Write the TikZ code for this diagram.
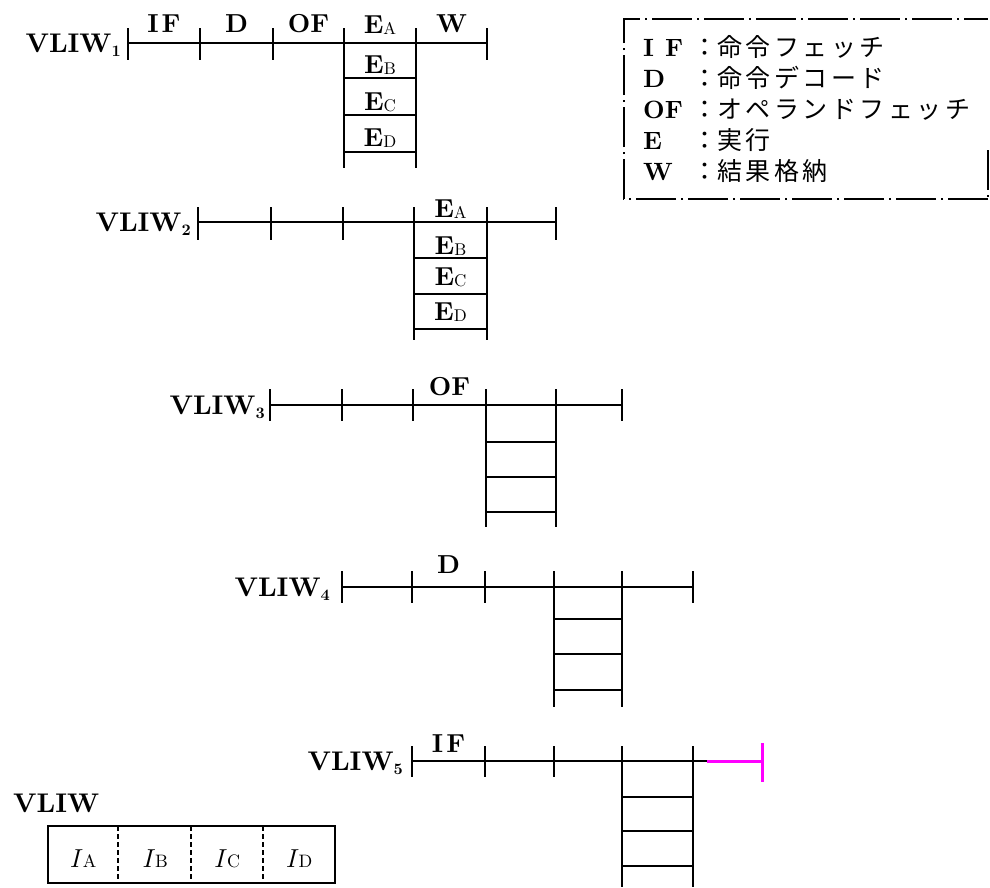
\documentclass[tikz,border=0pt]{standalone}
\usepackage{fontspec}
\setmainfont{lmroman10-regular.otf}[BoldFont=lmroman10-bold.otf, ItalicFont=lmroman10-italic.otf, BoldItalicFont=lmroman10-bolditalic.otf]
\newfontfamily\jpfont{Noto Sans CJK JP}
\newcommand\fs[1]{\fontsize{#1}{#1}\selectfont}
\newcommand\jk{\kern3.5pt}
\newcommand\vl[1]{VLIW\raisebox{-4pt}{\fs{16}#1}}
\newcommand\ee[1]{E\raisebox{-1.5pt}{\fs{17}\mdseries #1}}
\newcommand\ii[1]{\textit{I}{\fs{18}#1}}
\definecolor{mag}{RGB}{255,0,255}
\tikzset{
  pline/.style={line width=1.8pt},
  vlabel/.style={font=\fs{27}\bfseries, inner sep=0pt, anchor=base east},
  stage/.style={font=\fs{26}\bfseries, inner sep=0pt, anchor=base},
  cellt/.style={font=\fs{26}\bfseries, inner sep=0pt, anchor=base},
  legl/.style={font=\fs{25}\bfseries, inner sep=0pt, anchor=base west},
  legc/.style={font=\fs{25}\jpfont, inner sep=0pt, anchor=base},
  legj/.style={font=\fs{25}\jpfont, inner sep=0pt, anchor=base west},
  legbox/.style={line width=1.1pt, dash pattern=on 40pt off 5pt on 2pt off 5pt},
  boxlab/.style={font=\fs{26}, inner sep=0pt, anchor=base},
  extra/.style={mag, line width=3pt}
}
\begin{document}
\begin{tikzpicture}[x=1pt,y=-1pt]
\useasboundingbox (0,0) rectangle (990,887);
% ---------- Row 1
\coordinate (a1) at (128,43); \coordinate (b1) at (487,43);
\draw[pline] (a1) -- (b1);
\foreach \x in {128,200,273,344,416,487} \draw[pline] (\x,28) -- (\x,60);
\draw[pline] (344,28) -- (344,168) (416,28) -- (416,168);
\foreach \y in {78,115,152} \draw[pline] (344,\y) -- (416,\y);
\node[vlabel] (v1) at (121,52) {\vl{1}};
\node[stage] (s1a) at (164,32) {I\kern3ptF};
\node[stage] (s1b) at (236.5,32) {D};
\node[stage] (s1c) at (308.5,32) {OF};
\node[cellt] (s1d) at (380,33) {\ee{A}};
\node[stage] (s1e) at (451.5,32) {W};
\node[cellt] (c1b) at (380,73) {\ee{B}};
\node[cellt] (c1c) at (380,110) {\ee{C}};
\node[cellt] (c1d) at (380,146) {\ee{D}};
% ---------- Row 2
\coordinate (a2) at (198,222); \coordinate (b2) at (556,222);
\draw[pline] (a2) -- (b2);
\foreach \x in {198,271,343,414,487,556} \draw[pline] (\x,207) -- (\x,240);
\draw[pline] (414,207) -- (414,340) (487,207) -- (487,340);
\foreach \y in {258,294,329} \draw[pline] (414,\y) -- (487,\y);
\node[vlabel] (v2) at (191,231) {\vl{2}};
\node[cellt] (c2a) at (450.5,217) {\ee{A}};
\node[cellt] (c2b) at (450.5,254) {\ee{B}};
\node[cellt] (c2c) at (450.5,285) {\ee{C}};
\node[cellt] (c2d) at (450.5,320) {\ee{D}};
% ---------- Row 3
\coordinate (a3) at (270,405); \coordinate (b3) at (622,405);
\draw[pline] (a3) -- (b3);
\foreach \x in {270,342,413,486,556,622} \draw[pline] (\x,389) -- (\x,421);
\draw[pline] (486,389) -- (486,527) (556,389) -- (556,527);
\foreach \y in {442,477,512} \draw[pline] (486,\y) -- (556,\y);
\node[vlabel] (v3) at (265,414) {\vl{3}};
\node[stage] (s3) at (449.5,395) {OF};
% ---------- Row 4
\coordinate (a4) at (342,587); \coordinate (b4) at (693,587);
\draw[pline] (a4) -- (b4);
\foreach \x in {342,412,485,554,622,693} \draw[pline] (\x,571) -- (\x,603);
\draw[pline] (554,571) -- (554,707) (622,571) -- (622,707);
\foreach \y in {619,654,690} \draw[pline] (554,\y) -- (622,\y);
\node[vlabel] (v4) at (330,596) {\vl{4}};
\node[stage] (s4) at (448.5,573) {D};
% ---------- Row 5
\coordinate (a5) at (412,761); \coordinate (b5) at (707,761);
\coordinate (m5) at (762,761);
\draw[pline] (a5) -- (b5);
\foreach \x in {412,485,554,622,693} \draw[pline] (\x,746) -- (\x,777);
\draw[pline] (622,746) -- (622,887) (693,746) -- (693,887);
\foreach \y in {797,831,866} \draw[pline] (622,\y) -- (693,\y);
\node[vlabel] (v5) at (403,770) {\vl{5}};
\node[stage] (s5) at (448.5,752) {I\kern3ptF};
\draw[extra] (b5) -- (m5);
\draw[extra] (762,743) -- (762,782);
% ---------- VLIW word
\node[font=\fs{27}\bfseries, inner sep=0pt, anchor=base west] (vw) at (13,812) {VLIW};
\draw[pline] (48,826) rectangle (335,883);
\foreach \x in {118,191,263} \draw[line width=1.5pt, dash pattern=on 5pt off 3pt] (\x,826) -- (\x,883);
\node[boxlab] (ia) at (83,867) {\ii{A}};
\node[boxlab] (ib) at (155,867) {\ii{B}};
\node[boxlab] (ic) at (227,867) {\ii{C}};
\node[boxlab] (id) at (299,867) {\ii{D}};
% ---------- Legend
\draw[legbox] (988,199) -- (624,199) -- (624,19) -- (988,19);
\draw[legbox] (988,150) -- (988,199);
\node[legl] (l1) at (643,56) {I\kern11pt F};
\node[legl] (l2) at (643,87) {D};
\node[legl] (l3) at (643,118) {OF};
\node[legl] (l4) at (643,149) {E};
\node[legl] (l5) at (643,180) {W};
\foreach \b/\n in {56/1,87/2,118/3,149/4,180/5} \node[legc] (k\n) at (705,\b) {：};
\node[legj] (j1) at (717,56) {命\jk 令\jk フ\jk ェ\jk ッ\jk チ};
\node[legj] (j2) at (717,87) {命\jk 令\jk デ\jk コ\jk ー\jk ド};
\node[legj] (j3) at (717,118) {オ\jk ペ\jk ラ\jk ン\jk ド\jk フ\jk ェ\jk ッ\jk チ};
\node[legj] (j4) at (717,149) {実\jk 行};
\node[legj] (j5) at (717,180) {結\jk 果\jk 格\jk 納};
\end{tikzpicture}
\end{document}
